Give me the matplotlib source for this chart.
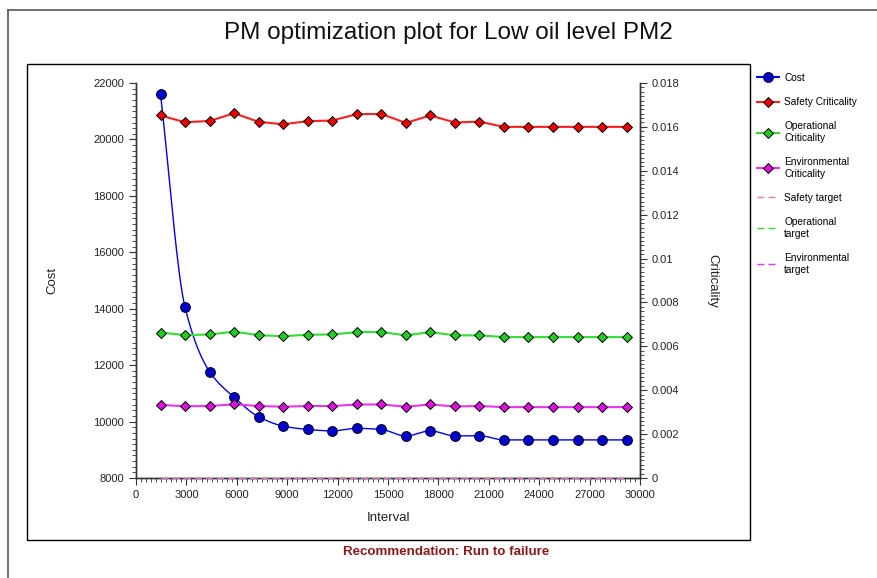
import numpy as np
import matplotlib
matplotlib.use("Agg")
from matplotlib import pyplot as plt
from matplotlib.lines import Line2D
from matplotlib.patches import Rectangle
from matplotlib.ticker import MultipleLocator, FuncFormatter

plt.rcParams['font.family'] = ['Liberation Sans', 'DejaVu Sans']

# data
intervals = [1460, 2920, 4380, 5840, 7300, 8760, 10220, 11680, 13140, 14600,
             16060, 17520, 18980, 20440, 21900, 23360, 24820, 26280, 27740, 29200]
cost = [21600, 14050, 11770, 10860, 10170, 9840, 9720, 9670, 9760, 9720,
        9490, 9670, 9490, 9500, 9350, 9350, 9350, 9350, 9350, 9350]
safety = [0.01652, 0.01621, 0.01627, 0.01662, 0.01623, 0.01612, 0.01626, 0.01629, 0.01658, 0.01659,
          0.01618, 0.01652, 0.01620, 0.01624, 0.0160, 0.0160, 0.0160, 0.0160, 0.0160, 0.0160]
operational = [0.00663, 0.00651, 0.00654, 0.00667, 0.00651, 0.00646, 0.00653, 0.00654, 0.00665, 0.00665,
               0.00650, 0.00665, 0.00650, 0.00650, 0.00642, 0.00642, 0.00642, 0.00642, 0.00642, 0.00642]
environmental = [0.00333, 0.00327, 0.00328, 0.00336, 0.00328, 0.00325, 0.00328, 0.00328, 0.00335, 0.00335,
                 0.00325, 0.00335, 0.00326, 0.00328, 0.00323, 0.00323, 0.00323, 0.00323, 0.00323, 0.00323]
safety_target = [0.0] * 20
operational_target = [0.0] * 20
environmental_target = [0.0] * 20


def pchip(x, y, xs):
    # monotone cubic curve, only used to draw the cost line smoothly
    x = np.asarray(x, float)
    y = np.asarray(y, float)
    h = np.diff(x)
    d = np.diff(y) / h
    m = np.zeros_like(y)
    for k in range(1, len(x) - 1):
        if d[k - 1] * d[k] > 0:
            w1 = 2 * h[k] + h[k - 1]
            w2 = h[k] + 2 * h[k - 1]
            m[k] = (w1 + w2) / (w1 / d[k - 1] + w2 / d[k])
    m[0] = d[0]
    m[-1] = d[-1]
    i = np.clip(np.searchsorted(x, xs) - 1, 0, len(h) - 1)
    t = (xs - x[i]) / h[i]
    h00 = 2 * t**3 - 3 * t**2 + 1
    h10 = t**3 - 2 * t**2 + t
    h01 = -2 * t**3 + 3 * t**2
    h11 = t**3 - t**2
    return h00 * y[i] + h10 * h[i] * m[i] + h01 * y[i + 1] + h11 * h[i] * m[i + 1]


W, H = 877, 578
fig = plt.figure(figsize=(W / 100, H / 100), dpi=100)

# frames
fig.add_artist(Line2D([8 / W, 8 / W], [0, 1 - 10 / H], color='#555555', lw=1.2))
fig.add_artist(Line2D([8 / W, 1], [1 - 10 / H, 1 - 10 / H], color='#555555', lw=1.2))
fig.add_artist(Rectangle((27 / W, 1 - 540 / H), (750 - 27) / W, (540 - 64) / H,
                         transform=fig.transFigure, fill=False, ec='black', lw=1.0))

ax = fig.add_axes([136 / W, 1 - 478 / H, (640 - 136) / W, (478 - 83) / H])
ax2 = ax.twinx()

dash = (5, 3)
xs = np.linspace(intervals[0], intervals[-1], 600)
ax.plot(xs, pchip(intervals, cost, xs), color='#0000ee', lw=1.0, zorder=3)
ax.plot(intervals, cost, 'o', ms=7, mfc='#0000cc', mec='#000033', mew=0.8, zorder=4)

ax2.plot(intervals, safety, '-D', color='#ff2020', ms=5, mfc='#ee0000', mec='black', mew=0.7)
ax2.plot(intervals, operational, '-D', color='#33dd33', ms=5, mfc='#22cc22', mec='black', mew=0.7)
ax2.plot(intervals, environmental, '-D', color='#ee33ee', ms=5, mfc='#dd11dd', mec='black', mew=0.7)
ax2.plot(intervals, safety_target, color='#ff8080', lw=1.0, dashes=dash, clip_on=False, zorder=3)
ax2.plot(intervals, operational_target, color='#33dd33', lw=1.0, dashes=dash, clip_on=False, zorder=3)
ax2.plot(intervals, environmental_target, color='#dd66dd', lw=1.0, dashes=dash, clip_on=False, zorder=3)

ax.set_xlim(0, 30000)
ax.set_ylim(8000, 22000)
ax2.set_ylim(0, 0.018)

ax.xaxis.set_major_locator(MultipleLocator(3000))
ax.xaxis.set_minor_locator(MultipleLocator(300))
ax.yaxis.set_major_locator(MultipleLocator(2000))
ax.yaxis.set_minor_locator(MultipleLocator(200))
ax2.yaxis.set_major_locator(MultipleLocator(0.002))
ax2.yaxis.set_minor_locator(MultipleLocator(0.0002))
ax2.yaxis.set_major_formatter(FuncFormatter(lambda v, p: f'{v:g}'))

for a in (ax, ax2):
    a.spines['top'].set_visible(False)
    for s in a.spines.values():
        s.set_color('#333333')
        s.set_linewidth(1.0)
    a.tick_params(which='major', direction='out', length=5, width=0.8,
                  labelsize=8, colors='#333333', labelcolor='#222222')
    a.tick_params(which='minor', direction='out', length=3, width=0.6, colors='#333333')

ax.set_xlabel('Interval', fontsize=9.5, color='#222222')
ax.set_ylabel('Cost', fontsize=9.5, color='#222222')
ax2.set_ylabel('Criticality', fontsize=9.5, color='#222222', rotation=270)
ax.xaxis.set_label_coords(0.5, -(512 - 478) / 395)
ax.yaxis.set_label_coords(-(136 - 58) / 504, 0.5)
ax2.yaxis.set_label_coords((718 - 136) / 504, 0.5)

fig.text(448 / W, 1 - 33 / H, 'PM optimization plot for Low oil level PM2',
         ha='center', va='center', fontsize=17.5, color='#111111')
fig.text(446 / W, 1 - 552 / H, 'Recommendation: Run to failure',
         ha='center', va='center', fontsize=9.6, fontweight='bold', color='#8b1a1a')

handles = [
    Line2D([], [], color='#0000ee', marker='o', ms=7, mfc='#0000cc', mec='#000033', mew=0.8),
    Line2D([], [], color='#ff2020', marker='D', ms=5, mfc='#ee0000', mec='black', mew=0.7),
    Line2D([], [], color='#33dd33', marker='D', ms=5, mfc='#22cc22', mec='black', mew=0.7),
    Line2D([], [], color='#ee33ee', marker='D', ms=5, mfc='#dd11dd', mec='black', mew=0.7),
    Line2D([], [], color='#ff8080', lw=1.0, dashes=dash),
    Line2D([], [], color='#33dd33', lw=1.0, dashes=dash),
    Line2D([], [], color='#ee33ee', lw=1.0, dashes=dash),
]
labels = ['Cost', 'Safety Criticality', 'Operational\nCriticality', 'Environmental\nCriticality',
          'Safety target', 'Operational\ntarget', 'Environmental\ntarget']
fig.legend(handles, labels, loc='upper left', bbox_to_anchor=(757 / W, 1 - 73 / H),
           frameon=False, fontsize=7.3, handlelength=2.2, handletextpad=0.5,
           labelspacing=1.4, borderpad=0, borderaxespad=0)

fig.savefig('out.png', dpi=100)
